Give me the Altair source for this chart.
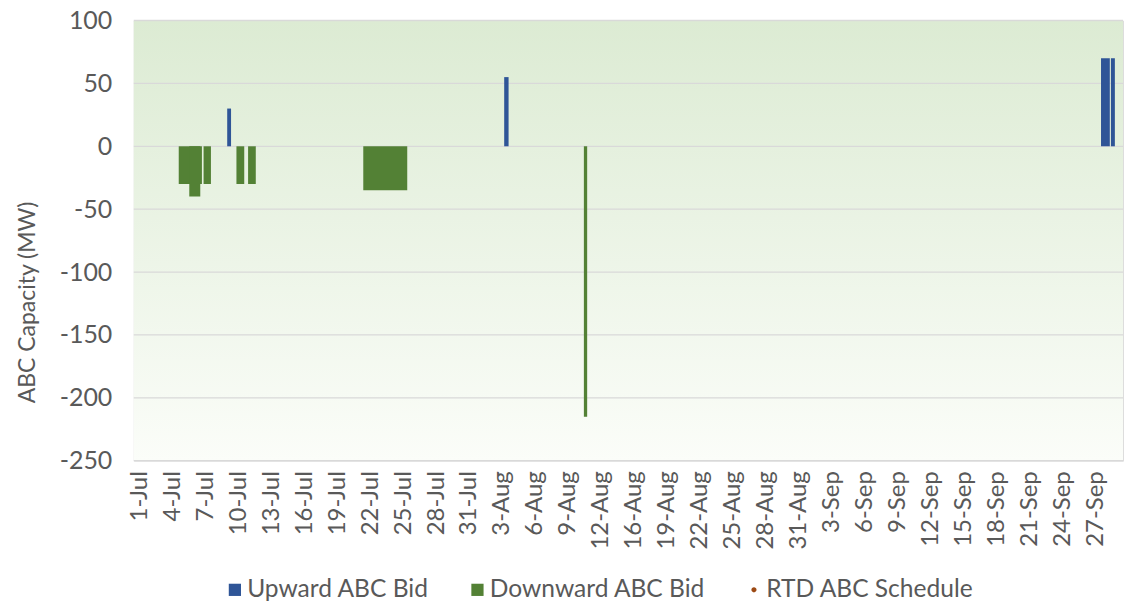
import altair as alt
import pandas as pd

# Category axis: one slot per day (1-Jul ... 29-Sep, with one August day absent)
tick_labels = ["1-Jul", "4-Jul", "7-Jul", "10-Jul", "13-Jul", "16-Jul", "19-Jul", "22-Jul",
               "25-Jul", "28-Jul", "31-Jul", "3-Aug", "6-Aug", "9-Aug", "12-Aug", "16-Aug",
               "19-Aug", "22-Aug", "25-Aug", "28-Aug", "31-Aug", "3-Sep", "6-Sep", "9-Sep",
               "12-Sep", "15-Sep", "18-Sep", "21-Sep", "24-Sep", "27-Sep"]
n_slots = 90

series_names = ["Upward ABC Bid", "Downward ABC Bid", "RTD ABC Schedule"]
series_colors = ["#2f5597", "#538135", "#9c4a15"]

# Upward ABC bids (start/end in day slots, MW)
up_start = [8.5, 33.7, 88.0, 88.9]
up_end = [8.85, 34.1, 88.8, 89.26]
up_mw = [30, 55, 70, 70]

# Downward ABC bids
down_start = [4.09, 5.05, 6.35, 9.34, 10.4, 20.88, 40.95]
down_end = [6.2, 6.05, 7.02, 10.05, 11.1, 24.88, 41.25]
down_mw = [-30, -40, -30, -30, -30, -35, -215]

y_ticks = [-250, -200, -150, -100, -50, 0, 50, 100]

bars = pd.DataFrame({
    "start": up_start + down_start,
    "end": up_end + down_end,
    "mw": up_mw + down_mw,
    "series": [series_names[0]] * len(up_mw) + [series_names[1]] * len(down_mw),
})

FONT = "Lato"
GREY = "#595959"

xscale = alt.Scale(domain=[0, n_slots], nice=False, zero=False)
yscale = alt.Scale(domain=[-250, 100], nice=False, zero=False)

yaxis = alt.Axis(values=y_ticks, title="ABC Capacity (MW)", grid=False, domain=False,
                 ticks=False, labelFont=FONT, labelFontSize=25, labelColor=GREY,
                 labelExpr="toString(datum.value)",
                 labelPadding=22, titleFont=FONT, titleFontSize=23, titleColor=GREY,
                 titleFontWeight="normal", titlePadding=20, titleY=282)

label_expr = "[" + ",".join("'" + t + "'" for t in tick_labels) + "][floor(datum.value / 3)]"

gradient = alt.LinearGradient(
    gradient="linear",
    stops=[alt.GradientStop(color="#dcebd3", offset=0),
           alt.GradientStop(color="#fbfdf9", offset=1)],
    x1=0, x2=0, y1=0, y2=1,
)

bg = alt.Chart(pd.DataFrame({"a": [0]})).mark_rect(color=gradient).encode(
    x=alt.value(0), x2=alt.value("width"), y=alt.value(0), y2=alt.value("height")
)

grid = alt.Chart(pd.DataFrame({"y": y_ticks})).mark_rule(color="#d9d9d9", strokeWidth=1.3).encode(
    y=alt.Y("y:Q", scale=yscale, axis=yaxis)
)

square_path = "M-1,-1H1V1H-1Z"
dot_path = "M-0.42,0A0.42,0.42,0,1,1,0.42,0A0.42,0.42,0,1,1,-0.42,0Z"

bar_layer = alt.Chart(bars).mark_rect().encode(
    x=alt.X("start:Q", scale=xscale,
            axis=alt.Axis(values=[i * 3 + 0.5 for i in range(len(tick_labels))],
                          labelExpr=label_expr, labelAngle=-90, labelAlign="right",
                          labelBaseline="middle", labelFont=FONT, labelFontSize=24,
                          labelColor=GREY, labelPadding=10, ticks=False, grid=False,
                          domain=False, title=None, labelOverlap=False)),
    x2="end:Q",
    y=alt.Y("mw:Q", scale=yscale, axis=yaxis),
    y2=alt.datum(0),
    color=alt.Color("series:N",
                    scale=alt.Scale(domain=series_names, range=series_colors),
                    legend=alt.Legend(orient="none", legendX=89, legendY=558,
                                      direction="horizontal", title=None,
                                      symbolType=alt.ExprRef(expr="datum.value === 'RTD ABC Schedule' ? '" + dot_path + "' : '" + square_path + "'"),
                                      symbolSize=150,
                                      symbolStrokeWidth=0, labelFont=FONT,
                                      labelFontSize=24.6, labelColor=GREY,
                                      labelLimit=400, columnPadding=36,
                                      labelOffset=0)),
)

chart = alt.layer(bg, grid, bar_layer).properties(
    width=991, height=441, padding={"left": 8, "top": 0, "right": 0, "bottom": 0}
).configure_view(stroke=None).configure(background="white")

chart.save("out.html", embed_options={"renderer": "svg", "actions": False})
